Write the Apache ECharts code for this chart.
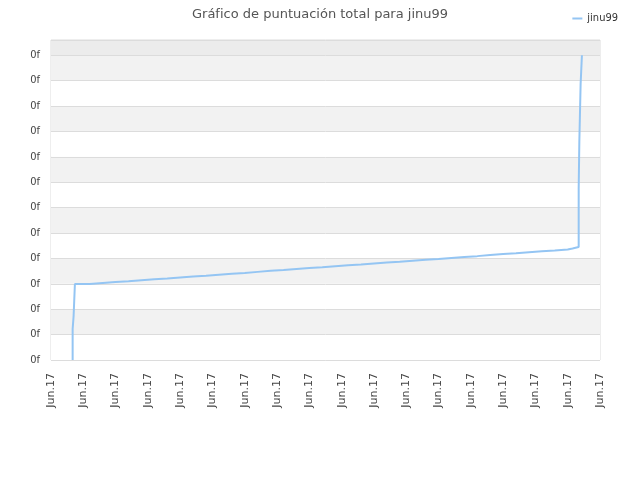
<!DOCTYPE html>
<html lang="es" style="height: 100%">
<head>
  <meta charset="utf-8">
  <title>Gráfico de puntuación total para jinu99</title>
  <style>
    body { margin: 0; background: #fff; }
    #container { width: 640px; height: 480px; }
  </style>
</head>
<body>
  <div id="container"></div>
  <script type="text/javascript" src="https://fastly.jsdelivr.net/npm/echarts@6/dist/echarts.min.js"></script>
  <script type="text/javascript">
    // Etiquetas de los ejes
    var xLabels = ['Jun.17', 'Jun.17', 'Jun.17', 'Jun.17', 'Jun.17', 'Jun.17', 'Jun.17', 'Jun.17', 'Jun.17',
                   'Jun.17', 'Jun.17', 'Jun.17', 'Jun.17', 'Jun.17', 'Jun.17', 'Jun.17', 'Jun.17', 'Jun.17'];
    var yLabels = ['0f', '0f', '0f', '0f', '0f', '0f', '0f', '0f', '0f', '0f', '0f', '0f', '0f'];

    // Serie jinu99 (posición en el tiempo, puntuación)
    var tiempos = [0.67, 0.67, 0.70, 0.70, 0.74, 0.74,
                   1.2, 1.2, 1.6, 1.6, 2.0, 2.0, 2.4, 2.4, 2.8, 2.8, 3.2, 3.2, 3.6, 3.6,
                   4.0, 4.0, 4.4, 4.4, 4.8, 4.8, 5.2, 5.2, 5.6, 5.6, 6.0, 6.0, 6.4, 6.4,
                   6.8, 6.8, 7.2, 7.2, 7.6, 7.6, 8.0, 8.0, 8.4, 8.4, 8.8, 8.8, 9.2, 9.2,
                   9.6, 9.6, 10.0, 10.0, 10.4, 10.4, 10.8, 10.8, 11.2, 11.2, 11.6, 11.6,
                   12.0, 12.0, 12.4, 12.4, 12.8, 12.8, 13.2, 13.2, 13.6, 13.6, 14.0, 14.0,
                   14.4, 14.4, 14.8, 14.8, 15.2, 15.2, 15.6, 15.6, 16.0, 16.0,
                   16.15, 16.15, 16.34, 16.34, 16.36, 16.36, 16.40, 16.40, 16.44, 16.44];
    var puntos = [0, 1.22, 1.22, 1.73, 1.73, 2.99,
                  2.99, 3.03, 3.03, 3.07, 3.07, 3.10, 3.10, 3.14, 3.14, 3.18, 3.18, 3.21, 3.21, 3.25,
                  3.25, 3.29, 3.29, 3.32, 3.32, 3.36, 3.36, 3.40, 3.40, 3.43, 3.43, 3.47, 3.47, 3.51,
                  3.51, 3.54, 3.54, 3.58, 3.58, 3.62, 3.62, 3.65, 3.65, 3.69, 3.69, 3.73, 3.73, 3.76,
                  3.76, 3.80, 3.80, 3.84, 3.84, 3.87, 3.87, 3.91, 3.91, 3.95, 3.95, 3.98,
                  3.98, 4.02, 4.02, 4.06, 4.06, 4.09, 4.09, 4.13, 4.13, 4.17, 4.17, 4.20,
                  4.20, 4.24, 4.24, 4.28, 4.28, 4.31, 4.31, 4.35, 4.35, 4.39,
                  4.39, 4.45, 4.45, 6.73, 6.73, 8.58, 8.58, 10.87, 10.87, 12.0];

    var serie = [];
    for (var i = 0; i < tiempos.length; i++) {
      serie.push([tiempos[i], puntos[i]]);
    }

    var fuente = 'DejaVu Sans, sans-serif';

    var myChart = echarts.init(document.getElementById('container'), null, { renderer: 'canvas' });

    var option = {
      animation: false,
      title: {
        text: 'Gráfico de puntuación total para jinu99',
        left: 'center',
        top: 3,
        textStyle: { fontFamily: fuente, fontSize: 13, fontWeight: 'normal', color: '#555' }
      },
      legend: {
        data: ['jinu99'],
        right: 17,
        top: 8,
        itemWidth: 10,
        itemHeight: 2,
        itemGap: 5,
        icon: 'rect',
        textStyle: { fontFamily: 'DejaVu Sans Condensed, DejaVu Sans, sans-serif', fontSize: 11, color: '#333' }
      },
      grid: {
        left: 51,
        right: 40,
        top: 40,
        bottom: 120,
        show: true,
        borderColor: '#dcdcdc',
        borderWidth: 1
      },
      xAxis: {
        type: 'value',
        min: 0,
        max: 17,
        interval: 1,
        axisLine: { show: false },
        axisTick: { show: false },
        splitLine: { show: false },
        axisLabel: {
          rotate: 90,
          margin: 13,
          fontFamily: fuente,
          fontSize: 11,
          color: '#444',
          formatter: function (v) { return xLabels[Math.round(v)] || ''; }
        }
      },
      yAxis: {
        type: 'value',
        min: 0,
        max: 12.6,
        interval: 1,
        axisLine: { show: false },
        axisTick: { show: false },
        splitLine: { show: true, lineStyle: { color: '#dcdcdc' } },
        splitArea: {
          show: true,
          areaStyle: {
            color: ['#ffffff', '#f2f2f2', '#ffffff', '#f2f2f2', '#ffffff', '#f2f2f2', '#ffffff',
                    '#f2f2f2', '#ffffff', '#f2f2f2', '#ffffff', '#f2f2f2', '#ececec']
          }
        },
        axisLabel: {
          margin: 11,
          fontFamily: 'DejaVu Sans Condensed, DejaVu Sans, sans-serif',
          fontSize: 11,
          color: '#444',
          showMaxLabel: false,
          formatter: function (v) {
            var k = Math.round(v);
            return Math.abs(v - k) < 1e-6 ? (yLabels[k] || '') : '';
          }
        }
      },
      series: [
        {
          name: 'jinu99',
          type: 'line',
          data: serie,
          showSymbol: false,
          color: '#94c5f3',
          lineStyle: { width: 2, color: '#94c5f3' }
        }
      ]
    };

    myChart.setOption(option);
  </script>
</body>
</html>
